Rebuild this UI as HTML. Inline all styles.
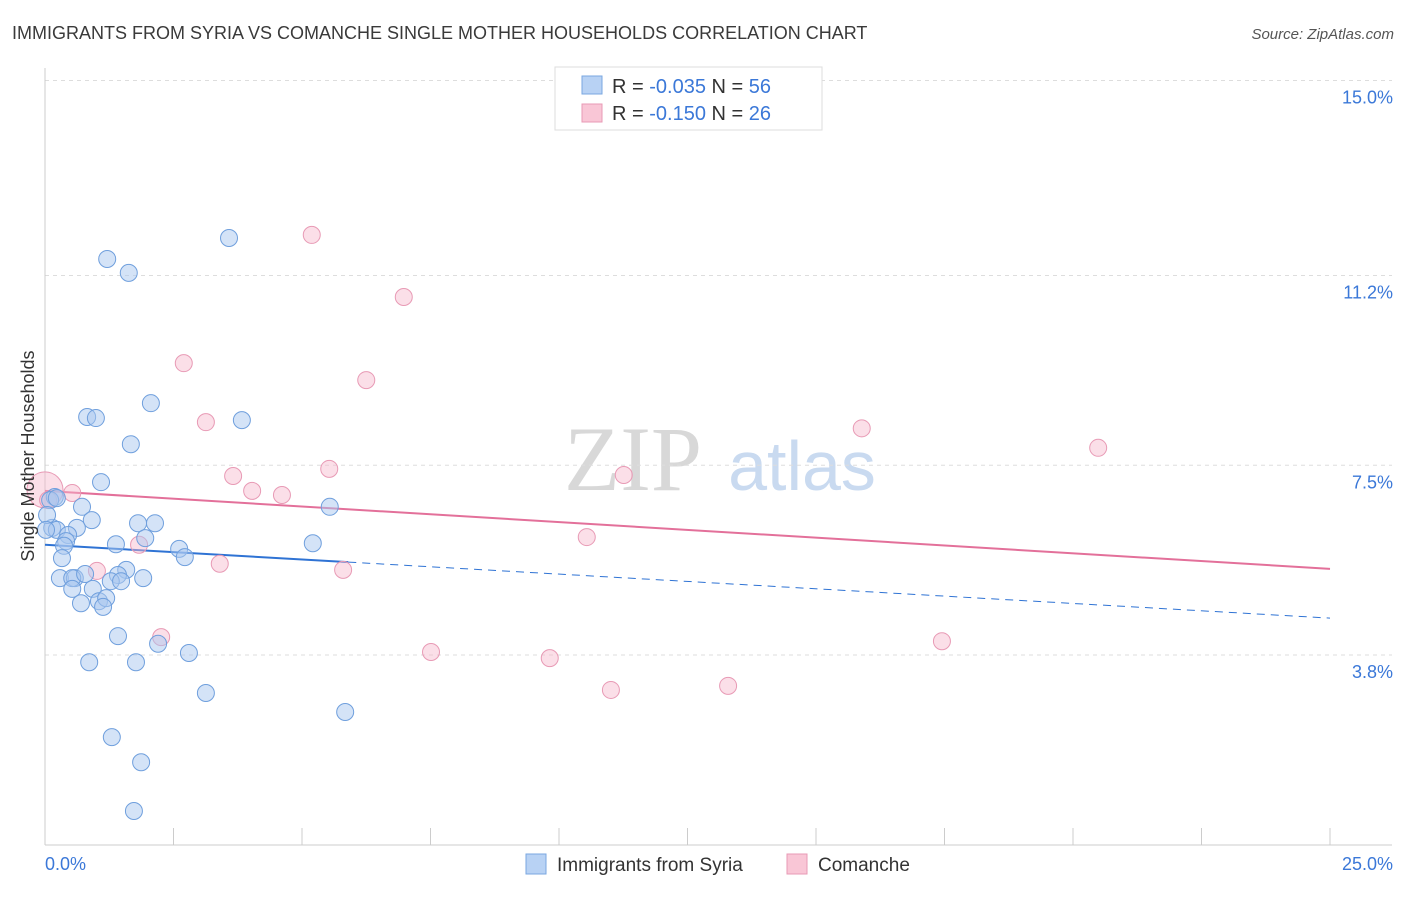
<!DOCTYPE html>
<html><head><meta charset="utf-8"><style>
body{margin:0;background:#fff;font-family:"Liberation Sans",sans-serif}
svg text{font-family:"Liberation Sans",sans-serif}
</style></head><body>
<svg id="c" width="1406" height="892" xmlns="http://www.w3.org/2000/svg">
<text x="12" y="39" font-size="18" fill="#3a3a3a">IMMIGRANTS FROM SYRIA VS COMANCHE SINGLE MOTHER HOUSEHOLDS CORRELATION CHART</text>
<text x="1394" y="39" font-size="15" fill="#555" text-anchor="end" font-style="italic">Source: ZipAtlas.com</text>
<g>
<text x="633" y="490" font-size="92" fill="#d8d8d8" text-anchor="middle" font-family="Liberation Serif" style="font-family:'Liberation Serif',serif">ZIP</text>
<text x="802" y="490" font-size="70" fill="#c9daf0" text-anchor="middle">atlas</text>
</g>
<g id="grid"></g><g id="axes"></g><g id="trend"></g><g id="pts"></g>
<text transform="translate(34,456) rotate(-90)" font-size="18" fill="#333" text-anchor="middle">Single Mother Households</text>
<g>
<rect x="555" y="67" width="267" height="63" fill="#fff" stroke="#ddd"/>
<rect x="582" y="76" width="20" height="18" fill="#b8d2f4" stroke="#7aa7e0"/>
<text x="612" y="93" font-size="20" fill="#333">R = <tspan fill="#3b78d8">-0.035</tspan>   N = <tspan fill="#3b78d8">56</tspan></text>
<rect x="582" y="104" width="20" height="18" fill="#f9c6d6" stroke="#e89ab5"/>
<text x="612" y="120" font-size="20" fill="#333">R =  <tspan fill="#3b78d8">-0.150</tspan>   N = <tspan fill="#3b78d8">26</tspan></text>
</g>
<g>
<rect x="526" y="854" width="20" height="20" fill="#b8d2f4" stroke="#7aa7e0"/>
<text x="557" y="871" font-size="19" fill="#333">Immigrants from Syria</text>
<rect x="787" y="854" width="20" height="20" fill="#f9c6d6" stroke="#e89ab5"/>
<text x="818" y="871" font-size="19" fill="#333">Comanche</text>
</g>
</svg>
<script>
const yTicks=[3.8,7.5,11.2,15.0];
const yTickLabels=["3.8%","7.5%","11.2%","15.0%"];
const xTickLabels=["0.0%","25.0%"];
const blueX=[3.58,1.21,1.63,2.06,0.82,0.99,3.83,1.67,1.09,0.19,0.10,0.23,5.54,0.72,0.91,1.81,2.14,0.14,0.23,0.62,0.45,0.41,0.37,1.38,1.95,5.21,2.61,2.72,0.33,0.29,0.58,0.53,0.78,1.58,1.42,1.91,1.28,1.48,0.53,0.93,1.05,1.19,0.70,1.13,1.42,2.20,2.80,0.86,1.77,3.13,5.84,1.30,1.87,1.73,0.04,0.02];
const blueY=[11.93,11.52,11.25,8.71,8.44,8.42,8.38,7.91,7.17,6.88,6.82,6.86,6.69,6.69,6.43,6.37,6.37,6.28,6.24,6.28,6.14,6.02,5.93,5.96,6.08,5.98,5.87,5.71,5.69,5.30,5.30,5.30,5.38,5.46,5.36,5.30,5.24,5.24,5.09,5.09,4.85,4.91,4.81,4.74,4.17,4.02,3.84,3.66,3.66,3.06,2.69,2.20,1.71,0.76,6.53,6.24];
const pinkX=[5.19,6.98,2.70,6.25,3.13,15.89,20.49,5.53,3.66,11.26,4.03,4.61,0.53,0.0,10.54,1.83,3.40,5.80,1.01,2.26,7.51,9.82,17.45,11.01,13.29,0.06];
const pinkY=[11.99,10.78,9.49,9.16,8.34,8.22,7.84,7.43,7.29,7.31,7.00,6.92,6.96,7.02,6.10,5.95,5.58,5.46,5.44,4.15,3.86,3.74,4.07,3.12,3.20,6.82];
const blueTrend=[5.95,4.52];
const pinkTrend=[7.0,5.48];
const NS="http://www.w3.org/2000/svg";
const X=v=>45+v/25*1285, Y=v=>850-v*51.3;
function mk(p,t,a){const e=document.createElementNS(NS,t);for(const k in a)e.setAttribute(k,a[k]);document.getElementById(p).appendChild(e);return e;}
yTicks.forEach((t,i)=>{
 const g=mk('grid','line',{x1:45,x2:1392,y1:Y(t),y2:Y(t),stroke:'#ddd','stroke-dasharray':'4,4'});
 
 
 const l=mk('grid','text',{x:1393,y:Y(t)+23,'font-size':18,fill:'#3b78d8','text-anchor':'end'});
 l.textContent=yTickLabels[i];
 
 
});
const ax=mk('axes','line',{x1:45,x2:45,y1:68,y2:845,stroke:'#ccc'});


const bx=mk('axes','line',{x1:45,x2:1392,y1:845,y2:845,stroke:'#ccc'});


for(let i=0;i<=10;i++){const t=mk('axes','line',{x1:X(i*2.5),x2:X(i*2.5),y1:828,y2:845,stroke:'#ccc'});
 
 }
[[0,'start',45],[25,'end',1393]].forEach((d,i)=>{const l=mk('axes','text',{x:d[2],y:870,'font-size':18,fill:'#3b78d8','text-anchor':d[1]});
 l.textContent=xTickLabels[i];
 
 });
// trends
const bx1=5.9, by1=blueTrend[0]+(blueTrend[1]-blueTrend[0])*bx1/25;
let t1=mk('trend','line',{x1:X(0),y1:Y(blueTrend[0]),x2:X(bx1),y2:Y(by1),stroke:'#2f73d4','stroke-width':2});


let t2=mk('trend','line',{x1:X(bx1),y1:Y(by1),x2:X(25),y2:Y(blueTrend[1]),stroke:'#2f73d4','stroke-width':1,'stroke-dasharray':'8,6'});


let t3=mk('trend','line',{x1:X(0),y1:Y(pinkTrend[0]),x2:X(25),y2:Y(pinkTrend[1]),stroke:'#e3709a','stroke-width':2});


pinkX.forEach((x,i)=>{const c=mk('pts','circle',{cx:X(x),cy:Y(pinkY[i]),r:(x===0?18:8.5),fill:'#f7b9cd','fill-opacity':0.45,stroke:'#e89ab5','stroke-width':1});
 
 });
blueX.forEach((x,i)=>{const c=mk('pts','circle',{cx:X(x),cy:Y(blueY[i]),r:8.5,fill:'#a9c8f0','fill-opacity':0.5,stroke:'#6f9fdd','stroke-width':1});
 
 });
</script>
</body></html>
